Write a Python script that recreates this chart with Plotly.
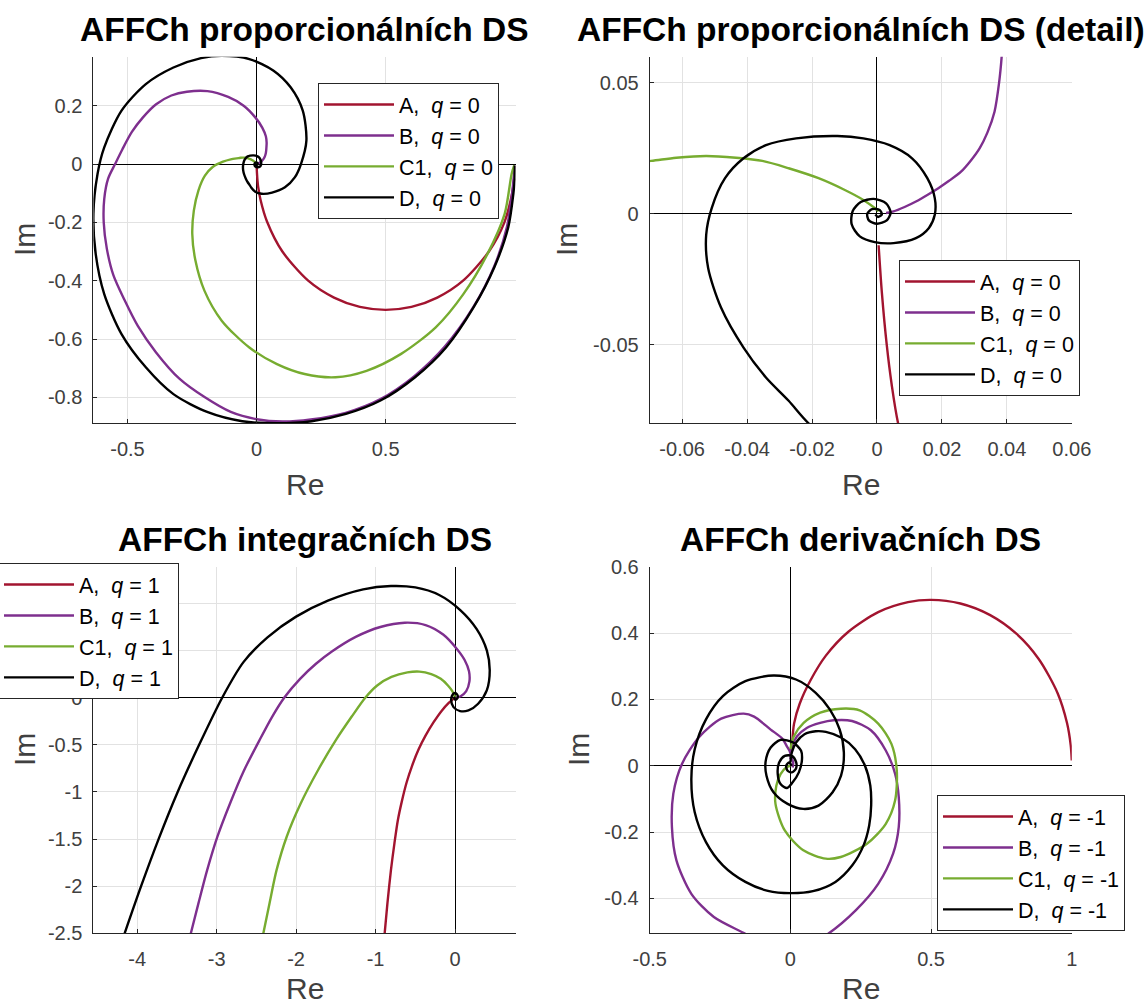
import plotly.graph_objects as go

# ---------------- data (Re, Im) ----------------
# q = 0  (proportional systems) -- used in the overview and the detail plot
re_A0 = [0.998, 0.99, 0.96, 0.9, 0.8, 0.7, 0.6, 0.5, 0.4, 0.3, 0.2, 0.1, 0.04, 0.016, 0.0065, 0.0045, 0.003, 0.0015, 0.0005]
im_A0 = [-0.05, -0.1, -0.2, -0.3, -0.4, -0.458, -0.49, -0.5, -0.49, -0.458, -0.4, -0.3, -0.196, -0.125, -0.08, -0.065, -0.05, -0.03, -0.012]

re_B0 = [1.0, 0.99, 0.97, 0.92, 0.84, 0.73, 0.61, 0.48, 0.345, 0.21, 0.1, 0.0, -0.1, -0.2, -0.3, -0.39, -0.46, -0.51,
         -0.555, -0.58, -0.592, -0.59, -0.575, -0.548, -0.52, -0.483, -0.44, -0.389, -0.33, -0.27, -0.19, -0.11,
         -0.05, -0.005, 0.022, 0.036, 0.039, 0.0384, 0.0376, 0.0362, 0.034, 0.0316, 0.0288, 0.0258, 0.0222, 0.0189,
         0.0155, 0.012, 0.0085, 0.0051, 0.0028]
im_B0 = [-0.005, -0.1, -0.215, -0.352, -0.49, -0.625, -0.728, -0.806, -0.853, -0.876, -0.883, -0.875, -0.85, -0.8,
         -0.735, -0.645, -0.555, -0.469, -0.38, -0.29, -0.2, -0.12, -0.05, 0.0, 0.05, 0.11, 0.16, 0.205, 0.235, 0.248,
         0.25, 0.23, 0.2, 0.16, 0.125, 0.095, 0.073, 0.06, 0.05, 0.039, 0.031, 0.025, 0.0202, 0.016, 0.0126, 0.0098,
         0.0072, 0.0047, 0.0026, 0.0009, 0.0003]

re_C0 = [0.998, 0.988, 0.961, 0.894, 0.801, 0.694, 0.56, 0.426, 0.306, 0.186, 0.079, -0.028, -0.135, -0.202, -0.237,
         -0.249, -0.243, -0.225, -0.2, -0.17, -0.13, -0.1, -0.0696, -0.0618, -0.0526, -0.0434, -0.0353, -0.0272,
         -0.018, -0.0099, -0.0042, -0.0007, 0.0005]
im_C0 = [-0.005, -0.034, -0.171, -0.309, -0.446, -0.56, -0.651, -0.709, -0.731, -0.72, -0.686, -0.629, -0.537, -0.434,
         -0.33, -0.24, -0.16, -0.09, -0.04, -0.01, 0.008, 0.016, 0.0202, 0.0214, 0.0221, 0.0214, 0.0202, 0.0174,
         0.0136, 0.0091, 0.0053, 0.0022, 0.0009]

re_D0 = [1.0, 1.0, 0.995, 0.975, 0.921, 0.841, 0.734, 0.614, 0.48, 0.346, 0.213, 0.079, -0.055, -0.189, -0.322,
         -0.429, -0.523, -0.59, -0.623, -0.632, -0.616, -0.59, -0.523, -0.429, -0.322, -0.215, -0.135, -0.028, 0.066,
         0.132, 0.179, 0.193, 0.172, 0.148, 0.11, 0.06, 0.02, -0.005, -0.0209, -0.0272, -0.0342, -0.0411, -0.048,
         -0.052, -0.0526, -0.0509, -0.0468, -0.0411, -0.0342, -0.0249, -0.0122, -0.0042, 0.0039, 0.0108, 0.0155,
         0.0178, 0.0178, 0.016, 0.012, 0.0051, -0.0007, -0.0053, -0.0078, -0.0075, -0.005, -0.001, 0.0028, 0.0042,
         0.003, 0.0, -0.0025, -0.003, -0.0015, 0.0008, 0.0015, 0.0003, -0.0005]
im_D0 = [-0.005, -0.05, -0.1, -0.217, -0.354, -0.491, -0.629, -0.731, -0.811, -0.857, -0.882, -0.889, -0.882, -0.851,
         -0.789, -0.697, -0.583, -0.446, -0.309, -0.171, -0.034, 0.057, 0.183, 0.274, 0.331, 0.363, 0.371, 0.36, 0.32,
         0.263, 0.183, 0.08, 0.0, -0.046, -0.08, -0.098, -0.102, -0.095, -0.0802, -0.0714, -0.0625, -0.0511, -0.0359,
         -0.0207, -0.008, 0.0022, 0.0136, 0.0212, 0.0262, 0.0288, 0.0297, 0.0288, 0.0262, 0.0212, 0.0136, 0.006,
         -0.0004, -0.0054, -0.0093, -0.0112, -0.0108, -0.0086, -0.004, 0.001, 0.0045, 0.0057, 0.004, 0.0005, -0.0025,
         -0.0038, -0.0025, 0.0, 0.0018, 0.0015, -0.0002, -0.0012, -0.0003]

# q = 1  (integrating systems)
re_A1 = [-0.886, -0.851, -0.807, -0.763, -0.72, -0.67, -0.61, -0.54, -0.46, -0.37, -0.27, -0.17, -0.08, -0.02, 0.0]
im_A1 = [-2.5, -2.18, -1.83, -1.545, -1.3, -1.1, -0.9, -0.72, -0.55, -0.4, -0.26, -0.14, -0.055, -0.012, 0.0]

re_B1 = [-3.324, -3.228, -3.119, -2.988, -2.83, -2.66, -2.46, -2.3, -2.15, -1.95, -1.75, -1.55, -1.25, -0.94, -0.633,
         -0.371, -0.15, 0.02, 0.12, 0.175, 0.18, 0.14, 0.07, 0.01]
im_B1 = [-2.5, -2.18, -1.83, -1.47, -1.12, -0.78, -0.45, -0.2, 0.0, 0.2, 0.36, 0.49, 0.645, 0.75, 0.796, 0.771, 0.67,
         0.52, 0.4, 0.28, 0.17, 0.07, 0.015, 0.0]

re_C1 = [-2.412, -2.334, -2.246, -2.116, -1.941, -1.723, -1.5, -1.3, -1.13, -0.98, -0.8, -0.6, -0.45, -0.3, -0.18,
         -0.09, -0.035, -0.008, 0.0]
im_C1 = [-2.5, -2.18, -1.83, -1.47, -1.12, -0.767, -0.45, -0.2, 0.0, 0.13, 0.22, 0.268, 0.277, 0.25, 0.2, 0.13, 0.07,
         0.02, 0.005]

re_D1 = [-4.157, -3.95, -3.73, -3.49, -3.22, -2.93, -2.66, -2.36, -2.0, -1.6, -1.156, -0.807, -0.5, -0.2, 0.065, 0.27,
         0.4, 0.436, 0.4, 0.29, 0.168, 0.063, -0.02, -0.05, -0.03, 0.0, 0.025, 0.035, 0.02, 0.0, -0.01, 0.0]
im_D1 = [-2.5, -2.0, -1.5, -1.0, -0.5, 0.0, 0.38, 0.64, 0.86, 1.03, 1.15, 1.185, 1.17, 1.09, 0.93, 0.73, 0.5, 0.29,
         0.08, -0.064, -0.135, -0.142, -0.1, -0.02, 0.035, 0.05, 0.035, 0.01, -0.015, -0.02, 0.0, 0.0]

# q = -1  (derivative systems)
re_Am = [0.007, 0.013, 0.033, 0.073, 0.126, 0.206, 0.312, 0.418, 0.5, 0.604, 0.71, 0.803, 0.883, 0.95, 0.983, 0.996, 1.0]
im_Am = [0.076, 0.127, 0.187, 0.26, 0.332, 0.404, 0.463, 0.493, 0.5, 0.489, 0.454, 0.398, 0.321, 0.218, 0.129, 0.063, 0.016]

re_Bm = [0.0, 0.006, 0.023, 0.058, 0.106, 0.153, 0.219, 0.286, 0.339, 0.372, 0.385, 0.385, 0.365, 0.312, 0.232,
         0.133, 0.04, -0.07, -0.159, -0.272, -0.352, -0.405, -0.421, -0.416, -0.385, -0.325, -0.246, -0.166, -0.129,
         -0.07, -0.03, -0.012, -0.002, 0.003, 0.01, 0.008]
im_Bm = [0.02, 0.058, 0.088, 0.114, 0.129, 0.137, 0.135, 0.107, 0.046, -0.024, -0.094, -0.185, -0.265, -0.356,
         -0.436, -0.507, -0.55, -0.55, -0.507, -0.456, -0.386, -0.285, -0.185, -0.084, 0.006, 0.086, 0.142, 0.157,
         0.148, 0.109, 0.083, 0.058, 0.043, 0.025, 0.01, -0.005]

re_Cm = [0.0, 0.012, 0.047, 0.106, 0.179, 0.246, 0.312, 0.359, 0.378, 0.372, 0.339, 0.272, 0.179, 0.126, 0.046,
         -0.02, -0.053, -0.05, -0.035, -0.015, 0.0]
im_Cm = [0.05, 0.088, 0.129, 0.16, 0.172, 0.167, 0.127, 0.066, -0.014, -0.105, -0.175, -0.235, -0.275, -0.28, -0.255,
         -0.195, -0.115, -0.06, -0.025, -0.005, 0.0]

re_Dm = [0.0, 0.005, 0.02, 0.05, 0.09, 0.126, 0.18, 0.23, 0.265, 0.284, 0.287, 0.28, 0.26, 0.22, 0.16, 0.08, 0.0,
         -0.08, -0.16, -0.24, -0.3, -0.34, -0.352, -0.34, -0.3, -0.24, -0.16, -0.06, 0.02, 0.09, 0.14, 0.175, 0.19,
         0.18, 0.15, 0.1, 0.046, -0.01, -0.06, -0.085, -0.088, -0.07, -0.035, 0.01, 0.038, 0.041, 0.03, 0.008, -0.012,
         -0.035, -0.045, -0.04, -0.02, 0.005, 0.02, 0.02, 0.005, -0.01, -0.015, -0.005, 0.005]
im_Dm = [0.01, 0.04, 0.07, 0.095, 0.104, 0.102, 0.085, 0.05, 0.0, -0.06, -0.12, -0.18, -0.24, -0.3, -0.35, -0.378,
         -0.384, -0.377, -0.35, -0.3, -0.23, -0.14, -0.04, 0.05, 0.14, 0.21, 0.255, 0.272, 0.26, 0.22, 0.17, 0.11,
         0.04, -0.03, -0.08, -0.12, -0.13, -0.115, -0.08, -0.03, 0.013, 0.055, 0.078, 0.07, 0.045, 0.018, -0.02,
         -0.05, -0.067, -0.055, -0.025, 0.01, 0.03, 0.03, 0.012, -0.008, -0.02, -0.015, 0.0, 0.01, 0.0]

series_names = ["A", "B", "C1", "D"]
colors = ["#A2142F", "#7E2F8E", "#77AC30", "#000000"]

panels = [
    ("x", "y", "legend", "0", [(re_A0, im_A0), (re_B0, im_B0), (re_C0, im_C0), (re_D0, im_D0)]),
    ("x2", "y2", "legend2", "0", [(re_A0, im_A0), (re_B0, im_B0), (re_C0, im_C0), (re_D0, im_D0)]),
    ("x3", "y3", "legend3", "1", [(re_A1, im_A1), (re_B1, im_B1), (re_C1, im_C1), (re_D1, im_D1)]),
    ("x4", "y4", "legend4", "-1", [(re_Am, im_Am), (re_Bm, im_Bm), (re_Cm, im_Cm), (re_Dm, im_Dm)]),
]

FONT = "Liberation Sans, Arial, Helvetica, sans-serif"
fig = go.Figure()
for xa, ya, lg, q, data in panels:
    for name, col, (xs, ys) in zip(series_names, colors, data):
        fig.add_trace(go.Scatter(
            x=xs, y=ys, mode="lines", xaxis=xa, yaxis=ya, legend=lg,
            name=name + ",\u00a0\u00a0<i>q</i> = " + q,
            line=dict(color=col, width=2.4, shape="spline", smoothing=0.8),
            hoverinfo="skip"))

W, H = 1145, 1008
def px_dom_x(a, b):
    return [a / W, b / W]
def px_dom_y(top, bottom):
    return [1 - bottom / H, 1 - top / H]

def axis_common(**kw):
    d = dict(showgrid=True, gridcolor="#e2e2e2", gridwidth=1,
             zeroline=True, zerolinecolor="#000000", zerolinewidth=1,
             showline=True, linecolor="#262626", linewidth=1, mirror=False,
             ticks="inside", ticklen=4, tickcolor="#262626",
             tickfont=dict(family=FONT, size=20, color="#404040"),
             fixedrange=True)
    d.update(kw)
    return d

xdomL = px_dom_x(93.4, 515.5)
xdomR = px_dom_x(649.7, 1071.8)
ydomT = px_dom_y(56.7, 423.3)
ydomB = px_dom_y(566.7, 933.3)

layout = dict(
    width=W, height=H, margin=dict(l=0, r=0, t=0, b=0, autoexpand=False),
    paper_bgcolor="white", plot_bgcolor="white",
    font=dict(family=FONT, color="#262626"),
    xaxis=axis_common(domain=xdomL, anchor="y", range=[-0.632, 1.003], tickvals=[-0.5, 0, 0.5],
                      ticktext=["-0.5", "0", "0.5"], ticklabelstandoff=8),
    yaxis=axis_common(domain=ydomT, anchor="x", range=[-0.889, 0.368],
                      tickvals=[-0.8, -0.6, -0.4, -0.2, 0, 0.2],
                      ticktext=["-0.8", "-0.6", "-0.4", "-0.2", "0", "0.2"], ticklabelstandoff=6),
    xaxis2=axis_common(domain=xdomR, anchor="y2", range=[-0.07, 0.06],
                       tickvals=[-0.06, -0.04, -0.02, 0, 0.02, 0.04, 0.06],
                       ticktext=["-0.06", "-0.04", "-0.02", "0", "0.02", "0.04", "0.06"], ticklabelstandoff=8),
    yaxis2=axis_common(domain=ydomT, anchor="x2", range=[-0.08, 0.06], tickvals=[-0.05, 0, 0.05],
                       ticktext=["-0.05", "0", "0.05"], ticklabelstandoff=6),
    xaxis3=axis_common(domain=xdomL, anchor="y3", range=[-4.55, 0.76], tickvals=[-4, -3, -2, -1, 0],
                       ticktext=["-4", "-3", "-2", "-1", "0"], ticklabelstandoff=8),
    # labels 0.5 and 1 are hidden behind the legend in the reference
    yaxis3=axis_common(domain=ydomB, anchor="x3", range=[-2.5, 1.39],
                       tickvals=[-2.5, -2, -1.5, -1, -0.5, 0, 0.5, 1],
                       ticktext=["-2.5", "-2", "-1.5", "-1", "-0.5", "0", "", ""], ticklabelstandoff=6),
    xaxis4=axis_common(domain=xdomR, anchor="y4", range=[-0.5, 1.0], tickvals=[-0.5, 0, 0.5, 1],
                       ticktext=["-0.5", "0", "0.5", "1"], ticklabelstandoff=8),
    yaxis4=axis_common(domain=ydomB, anchor="x4", range=[-0.505, 0.6],
                       tickvals=[-0.4, -0.2, 0, 0.2, 0.4, 0.6],
                       ticktext=["-0.4", "-0.2", "0", "0.2", "0.4", "0.6"], ticklabelstandoff=6),
)

def legend_cfg(xpx, ypx):
    return dict(x=xpx / W, y=1 - ypx / H, xanchor="left", yanchor="top",
                bgcolor="white", bordercolor="#262626", borderwidth=1,
                font=dict(family=FONT, size=21.5, color="#000000"),
                itemwidth=70, tracegroupgap=0)

layout["legend"] = legend_cfg(318, 83)
layout["legend2"] = legend_cfg(899, 260)
layout["legend3"] = legend_cfg(-2, 563)
layout["legend4"] = legend_cfg(937, 795)
fig.update_layout(**layout)

titles = [
    ("AFFCh proporcionálních DS", 304.5, 29),
    ("AFFCh proporcionálních DS (detail)", 860.8, 29),
    ("AFFCh integračních DS", 304.5, 539),
    ("AFFCh derivačních DS", 860.8, 539),
]
for txt, xc, yc in titles:
    fig.add_annotation(text="<b>" + txt + "</b>", xref="paper", yref="paper", x=xc / W, y=1 - yc / H,
                       xanchor="center", yanchor="middle", showarrow=False,
                       font=dict(family=FONT, size=33.5, color="#000000"))

for xc, yc in [(304.5, 484), (860.8, 484), (304.5, 988), (860.8, 988)]:
    fig.add_annotation(text="Re", xref="paper", yref="paper", x=xc / W, y=1 - yc / H,
                       xanchor="center", yanchor="middle", showarrow=False,
                       font=dict(family=FONT, size=30, color="#404040"))
for xc, yc in [(24, 240), (566, 240), (24, 750), (578, 750)]:
    fig.add_annotation(text="Im", xref="paper", yref="paper", x=xc / W, y=1 - yc / H,
                       xanchor="center", yanchor="middle", showarrow=False, textangle=-90,
                       font=dict(family=FONT, size=30, color="#404040"))

fig.write_html("out.html")
